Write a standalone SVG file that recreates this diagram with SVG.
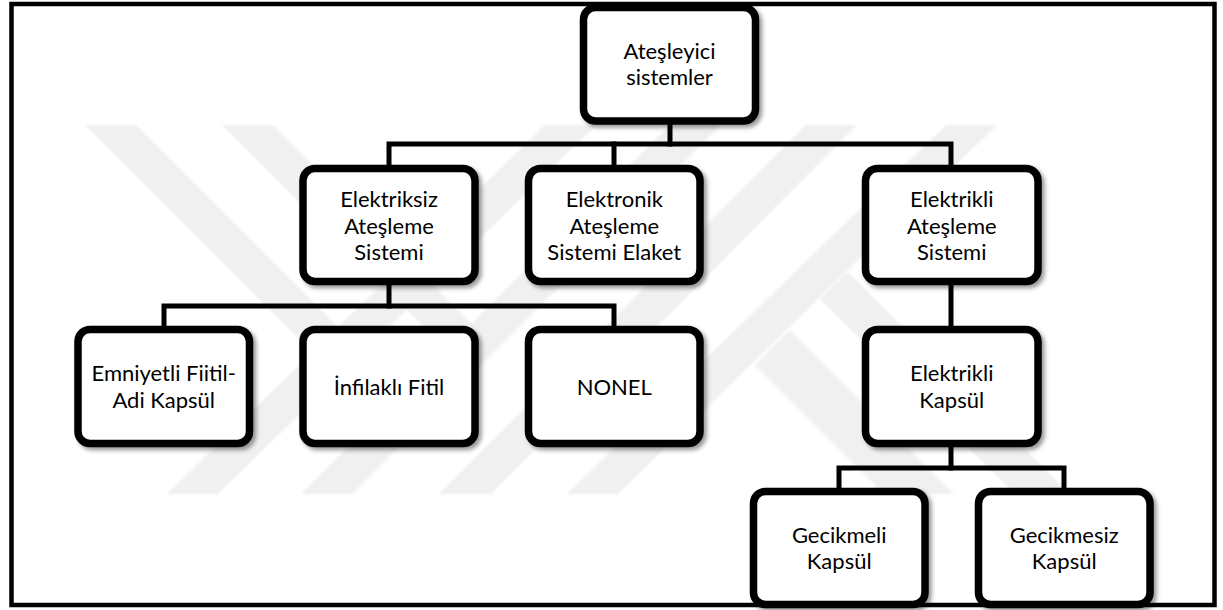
<svg xmlns="http://www.w3.org/2000/svg" width="1223" height="610" viewBox="0 0 1223 610">
<defs>
<filter id="sh" x="-10%" y="-10%" width="130%" height="130%">
<feDropShadow dx="3" dy="3" stdDeviation="2" flood-color="#000" flood-opacity="0.4"/>
</filter>
<filter id="soft"><feGaussianBlur stdDeviation="1"/></filter>
<style>
.box{fill:#fff;stroke:#000;stroke-width:7.5;filter:url(#sh)}
.lbl{font-family:Lato,"Open Sans",sans-serif;font-size:22px;fill:#000;text-anchor:middle}
.con{fill:none;stroke:#000;stroke-width:5;stroke-linejoin:miter;stroke-linecap:square}
.wm{fill:#f0f0f0}
</style>
</defs>
<rect width="1223" height="610" fill="#fff"/>
<g id="watermark" filter="url(#soft)">
<polygon class="wm" points="85,125 136,125 366,355 315,355"/>
<polygon class="wm" points="545,125 596,125 218,494 167,494"/>
<polygon class="wm" points="222,125 273,125 497,349 446,349"/>
<polygon class="wm" points="670,125 721,125 352,494 301,494"/>
<polygon class="wm" points="806,125 857,125 491,494 439,494"/>
<polygon class="wm" points="946,125 997,125 618,494 567,494"/>
<polygon class="wm" points="848,272 1070,494 1015,494 820,299"/>
<polygon class="wm" points="790,330 954,494 884,494 755,365"/>
</g>
<rect id="frame" x="11.5" y="4" width="1203" height="601" fill="none" stroke="#000" stroke-width="4.5"/>
<g id="connectors">
<path class="con" d="M670,121 V144"/>
<path class="con" d="M389,168 V144 H951 V168"/>
<path class="con" d="M614,144 V168"/>
<path class="con" d="M389,282 V306"/>
<path class="con" d="M164,329 V306 H614 V329"/>
<path class="con" d="M951,282 V329"/>
<path class="con" d="M951,443 V468"/>
<path class="con" d="M839,491 V468 H1064 V491"/>
</g>
<g id="n-root">
<rect class="box" x="583.5" y="7.5" width="172" height="113.5" rx="12"/>
<text class="lbl" x="669.5" y="58.5">Ateşleyici</text>
<text class="lbl" x="669.5" y="85">sistemler</text>
</g>
<g id="n-elektriksiz">
<rect class="box" x="303" y="168.5" width="172" height="113" rx="12"/>
<text class="lbl" x="389" y="207">Elektriksiz</text>
<text class="lbl" x="389" y="233.5">Ateşleme</text>
<text class="lbl" x="389" y="260">Sistemi</text>
</g>
<g id="n-elektronik">
<rect class="box" x="528.5" y="168.5" width="171.5" height="113" rx="12"/>
<text class="lbl" x="614.25" y="207">Elektronik</text>
<text class="lbl" x="614.25" y="233.5">Ateşleme</text>
<text class="lbl" x="614.25" y="260">Sistemi Elaket</text>
</g>
<g id="n-elektrikli">
<rect class="box" x="865.5" y="168.5" width="172.5" height="113" rx="12"/>
<text class="lbl" x="951.75" y="207">Elektrikli</text>
<text class="lbl" x="951.75" y="233.5">Ateşleme</text>
<text class="lbl" x="951.75" y="260">Sistemi</text>
</g>
<g id="n-emniyetli">
<rect class="box" x="78" y="329.5" width="171.5" height="114" rx="12"/>
<text class="lbl" x="163.75" y="381">Emniyetli Fiitil-</text>
<text class="lbl" x="163.75" y="407.5">Adi Kapsül</text>
</g>
<g id="n-infilakli">
<rect class="box" x="303" y="329.5" width="172" height="114" rx="12"/>
<text class="lbl" x="389" y="394.5">İnfilaklı Fitil</text>
</g>
<g id="n-nonel">
<rect class="box" x="528.5" y="329.5" width="171.5" height="114" rx="12"/>
<text class="lbl" x="614.25" y="394.5">NONEL</text>
</g>
<g id="n-kapsul">
<rect class="box" x="865.5" y="329.5" width="172.5" height="114" rx="12"/>
<text class="lbl" x="951.75" y="381">Elektrikli</text>
<text class="lbl" x="951.75" y="407.5">Kapsül</text>
</g>
<g id="n-gecikmeli">
<rect class="box" x="753.5" y="491.5" width="171.5" height="113" rx="12"/>
<text class="lbl" x="839.25" y="542.5">Gecikmeli</text>
<text class="lbl" x="839.25" y="569">Kapsül</text>
</g>
<g id="n-gecikmesiz">
<rect class="box" x="978.5" y="491.5" width="171.5" height="113" rx="12"/>
<text class="lbl" x="1064.25" y="542.5">Gecikmesiz</text>
<text class="lbl" x="1064.25" y="569">Kapsül</text>
</g>
</svg>
